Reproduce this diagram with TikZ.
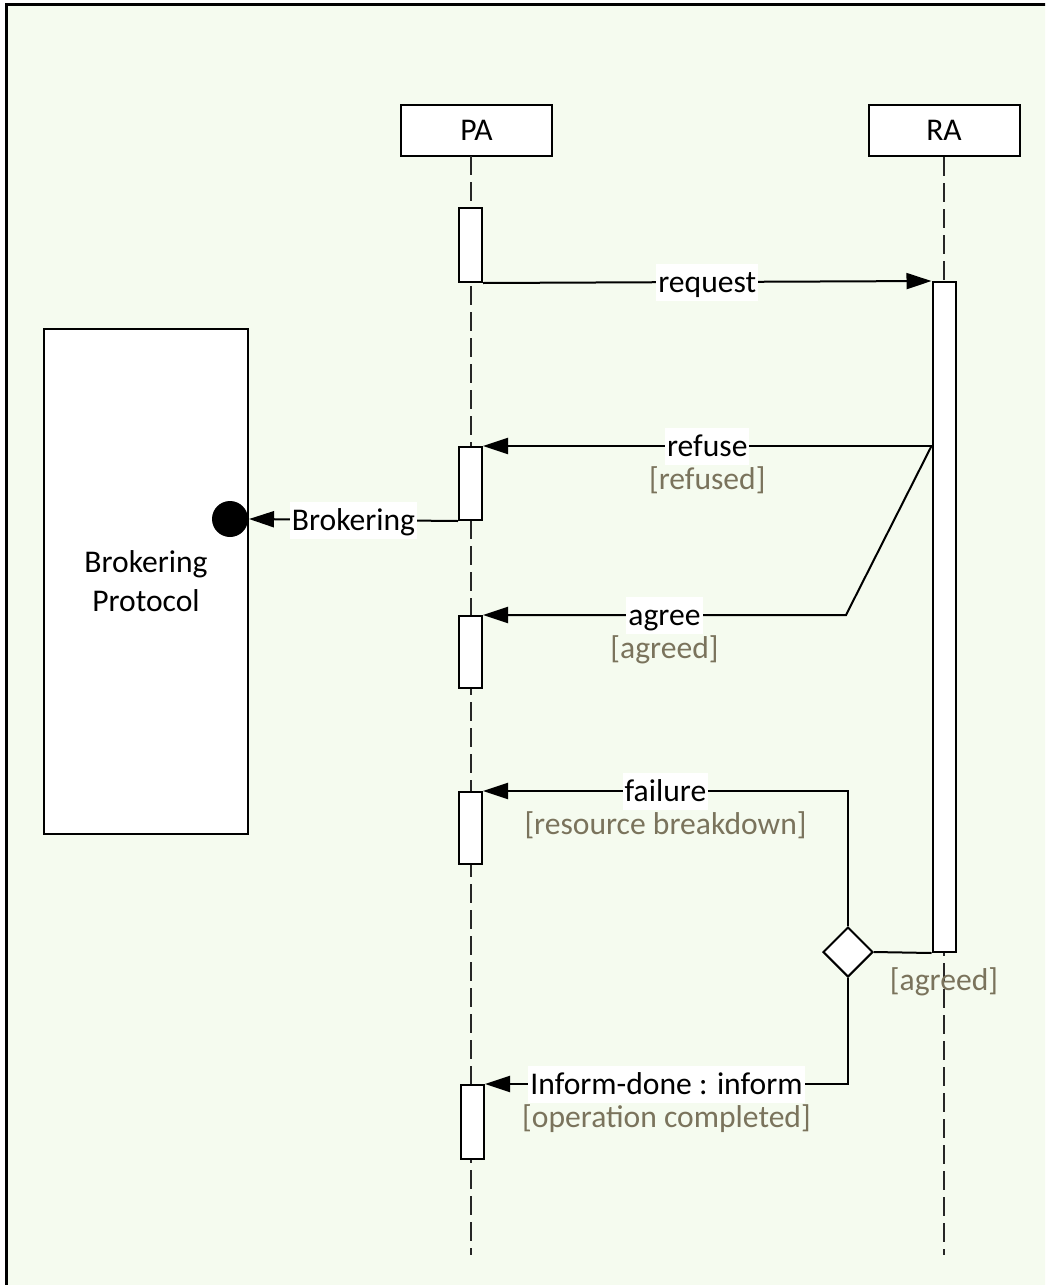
\documentclass[tikz,border=0pt]{standalone}
\usepackage{fontspec}
\setmainfont{Carlito}
\usepackage{xcolor}
\usepackage{tikz}
\usetikzlibrary{arrows.meta, shapes.geometric, positioning}
\definecolor{bgc}{HTML}{F5FBEF}
\definecolor{guardc}{HTML}{7A735C}

\begin{document}
\begin{tikzpicture}[x=0.5pt, y=-0.5pt, >={Triangle[length=12.5pt, width=8pt]},
  font=\fontsize{15.8}{19.5}\selectfont, line width=1pt,
  head/.style={draw, fill=white, minimum width=75.5pt, minimum height=25.5pt, inner sep=0pt},
  act/.style={draw, fill=white, minimum width=11.5pt, inner sep=0pt, anchor=north},
  life/.style={dash pattern=on 9.5pt off 3.5pt, black!85},
  lbl/.style={fill=white, inner xsep=1pt, inner ysep=2.25pt, text height=12pt, text depth=2pt},
  guard/.style={text=guardc, inner sep=0pt}]

  \useasboundingbox (0,0) rectangle (1045,1285);
  \clip (0,0) rectangle (1045,1285);
  \draw[fill=bgc, line width=1.2pt] (6.5,4.5) rectangle (1080,1320);

  % lifelines
  \node[head] (PA) at (476.5,130.5) {PA};
  \node[head] (RA) at (944,130.5) {RA};
  \coordinate (PAtop) at (470.5,156);
  \coordinate (PAend) at (470.5,1255);
  \draw[life] (PAtop) -- (PAend);
  \draw[life] (RA.south) -- (RA.south |- PAend);

  % activations
  \node[act, minimum height=37pt] (a1) at (470.5,207) {};
  \node[act, minimum height=36.5pt] (a2) at (470.5,446) {};
  \node[act, minimum height=36pt] (a3) at (470.5,615) {};
  \node[act, minimum height=36pt] (a4) at (470.5,791) {};
  \node[act, minimum height=37pt] (a5) at (472.5,1084) {};
  \node[act, minimum height=335pt] (r1) at (944,281) {};

  % brokering protocol
  \node[draw, fill=white, minimum width=102pt, minimum height=252.5pt, align=center] (BP) at (146,581.5) {Brokering\\Protocol};
  \node[circle, fill=black, minimum size=18pt, inner sep=0pt] (dot) at (230,519) {};
  \node[diamond, draw, fill=white, minimum width=25pt, minimum height=25pt, inner sep=0pt] (dm) at (848,952) {};
  \coordinate (bend) at (846,615);

  \draw[->] (a1.south east) -- node[lbl] (lreq) {request} (r1.north west);
  \draw[->] (r1.west |- a2.north) -- node[lbl] (lref) {refuse} (a2.north east);
  \node[guard, below=16.5pt of lref.base, anchor=base] (gref) {[refused]};
  \draw[->] (a2.south west) -- node[lbl] (lbrk) {Brokering} (dot.east);
  \draw[->] (r1.west |- a2.north) -- (bend) -- node[lbl] (lagr) {agree} (a3.north east);
  \node[guard, below=16.5pt of lagr.base, anchor=base] (gagr) {[agreed]};
  \draw (r1.south west) -- (dm.east);
  \node[guard, below=18.5pt of r1.south, anchor=base] (gdm) {[agreed]};
  \draw[->] (dm.north) |- node[lbl, pos=0.75] (lfail) {failure} (a4.north east);
  \node[guard, below=16.5pt of lfail.base, anchor=base] (gfail) {[resource breakdown]};
  \draw[->] (dm.south) |- node[lbl, pos=0.75] (linf) {Inform-done : inform} (a5.north east);
  \node[guard, below=16.5pt of linf.base, anchor=base] (ginf) {[operation completed]};
\end{tikzpicture}
\end{document}
